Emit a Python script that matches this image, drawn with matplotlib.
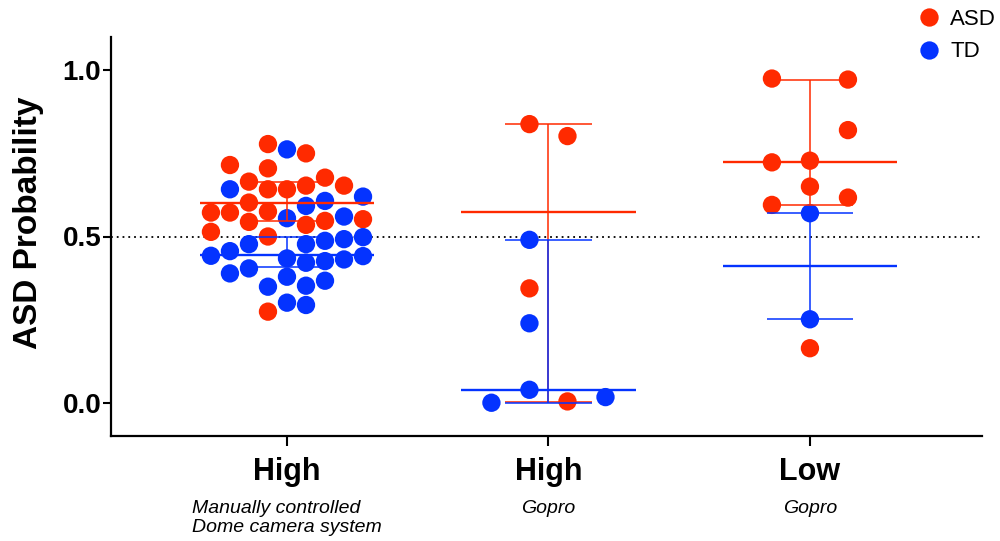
import matplotlib
matplotlib.use("Agg")
import matplotlib.pyplot as plt
from matplotlib.lines import Line2D

plt.rcParams['font.family'] = ['Liberation Sans', 'DejaVu Sans']

RED = '#FF2A00'
BLUE = '#0433FF'

groups = ['High', 'High', 'Low']
subtitles = ['Manually controlled\nDome camera system', 'Gopro', 'Gopro']

# values, with the swarm column each dot sits in
g1_asd = [0.778, 0.750, 0.715, 0.705, 0.677, 0.665, 0.653, 0.653, 0.642, 0.642, 0.602,
          0.575, 0.572, 0.572, 0.552, 0.547, 0.544, 0.535, 0.514, 0.500, 0.274]
g1_asd_col = [-1, 1, -3, -1, 2, -2, 3, 1, -1, 0, -2,
              -1, -3, -4, 4, 2, -2, 1, -4, -1, -1]
g1_td = [0.762, 0.642, 0.620, 0.607, 0.592, 0.560, 0.555, 0.498, 0.492, 0.487, 0.477,
         0.477, 0.456, 0.442, 0.441, 0.434, 0.431, 0.426, 0.421, 0.404, 0.389,
         0.379, 0.367, 0.352, 0.349, 0.301, 0.294]
g1_td_col = [0, -3, 4, 2, 1, 3, 0, 4, 3, 2, 1,
             -2, -3, -4, 4, 0, 3, 2, 1, -2, -3,
             0, 2, 1, -1, 0, 1]

g2_asd = [0.838, 0.802, 0.344, 0.004]
g2_asd_col = [-1, 1, -1, 1]
g2_td = [0.490, 0.239, 0.039, 0.000, 0.017]
g2_td_col = [-1, -1, -1, -3, 3]

g3_asd = [0.975, 0.972, 0.820, 0.728, 0.723, 0.650, 0.617, 0.595, 0.164]
g3_asd_col = [-2, 2, 2, 0, -2, 0, 2, -2, 0]
g3_td = [0.570, 0.251]
g3_td_col = [0, 0]

# centre line and whisker ends (median with bars) per group
asd_mid = [0.600, 0.573, 0.725]
asd_lo = [0.547, 0.001, 0.595]
asd_hi = [0.665, 0.838, 0.972]
td_mid = [0.444, 0.039, 0.410]
td_lo = [0.408, 0.000, 0.251]
td_hi = [0.498, 0.490, 0.570]

asd_sets = [(g1_asd, g1_asd_col), (g2_asd, g2_asd_col), (g3_asd, g3_asd_col)]
td_sets = [(g1_td, g1_td_col), (g2_td, g2_td_col), (g3_td, g3_td_col)]

fig = plt.figure(figsize=(10, 5.41), dpi=100)
ax = fig.add_axes([0.111, 1 - 436 / 541, 0.871, 399 / 541])

slot = 0.0727
ms = 13.2

for i in range(3):
    for (vals, cols), color in [(asd_sets[i], RED), (td_sets[i], BLUE)]:
        xs = [i + c * slot for c in cols]
        ax.scatter(xs, vals, s=ms ** 2, color=color, edgecolors='none', zorder=3)

for mid, lo, hi, color in [(asd_mid, asd_lo, asd_hi, RED), (td_mid, td_lo, td_hi, BLUE)]:
    for i in range(3):
        ax.hlines(mid[i], i - 0.333, i + 0.333, color=color, lw=1.7, zorder=4)
        ax.vlines(i, lo[i], hi[i], color=color, lw=1.1, zorder=4)
        ax.hlines([lo[i], hi[i]], i - 0.166, i + 0.166, color=color, lw=1.1, zorder=4)

ax.axhline(0.5, color='black', lw=1.3, linestyle=(0, (1, 2.2)), zorder=2)

ax.set_xlim(-0.673, 2.658)
ax.set_ylim(-0.1, 1.1)
ax.set_yticks([0.0, 0.5, 1.0])
ax.set_yticklabels(['0.0', '0.5', '1.0'], fontsize=20, fontweight='bold')
ax.set_xticks([0, 1, 2])
ax.set_xticklabels(groups, fontsize=22, fontweight='bold')
ax.tick_params(axis='y', length=6, width=1.5, pad=1)
ax.tick_params(axis='x', length=7, width=1.5, pad=8)
for side in ['top', 'right']:
    ax.spines[side].set_visible(False)
for side in ['left', 'bottom']:
    ax.spines[side].set_linewidth(1.6)

for i, sub in enumerate(subtitles):
    ax.annotate(sub, xy=(i, 0), xycoords=('data', 'axes fraction'),
                xytext=(0, -46), textcoords='offset points',
                ha='center', va='top', ma='left', fontsize=14,
                style='italic', linespacing=1.17)

fig.text(0.029, 1 - 222.5 / 541, 'ASD Probability', rotation=90,
         ha='center', va='center', fontsize=24, fontweight='bold')

handles = [Line2D([], [], marker='o', ls='none', ms=ms, color=RED, mec='none'),
           Line2D([], [], marker='o', ls='none', ms=ms, color=BLUE, mec='none')]
fig.legend(handles, ['ASD', 'TD'], loc='upper left', bbox_to_anchor=(0.918, 0.983),
           frameon=False, fontsize=16, handlelength=1.0, handletextpad=0.45,
           labelspacing=0.5, borderpad=0, borderaxespad=0)

fig.savefig('out.png', dpi=100)
